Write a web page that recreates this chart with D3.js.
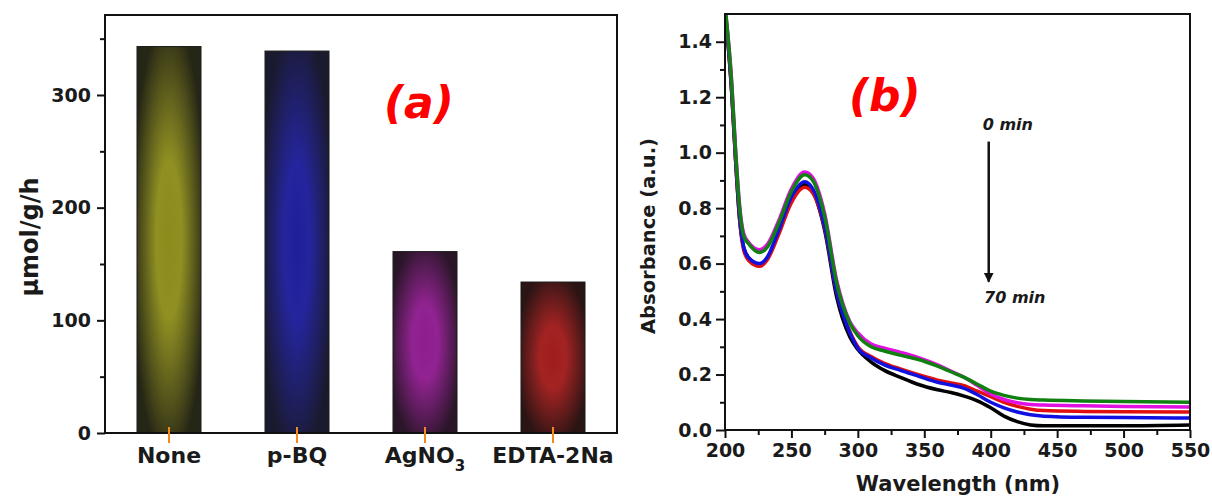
<!DOCTYPE html>
<html>
<head>
<meta charset="utf-8">
<script src="https://cdn.jsdelivr.net/npm/d3@7"></script>
<style>
  body { margin: 0; background: #fff; }
  svg { display: block; }
  text { font-family: "DejaVu Sans", sans-serif; font-weight: bold; fill: #1a1a1a; }
</style>
</head>
<body>
<script>
// ---- panel (a) data ----
var scavengers = ["None", "p-BQ", "AgNO3", "EDTA-2Na"];
var rates = [343, 339, 161, 134];
var barCenter = ["#8c8c1c", "#1e1e9a", "#8e1c8e", "#a01c1c"];
var barEdge = ["#262616", "#1a1a2e", "#2a1628", "#2a1414"];
var rateTicks = [0, 100, 200, 300];

// ---- panel (b) data ----
var wavelengths = [200, 205, 208, 211, 214, 218, 226, 232, 240, 250, 260, 266, 275, 284, 294, 300, 310, 320, 332, 345, 360, 370, 380, 390, 400, 410, 420, 430, 440, 470, 500, 550];
var absBlack   = [1.52, 1.22, 0.97, 0.76, 0.66, 0.62, 0.595, 0.62, 0.71, 0.83, 0.885, 0.86, 0.72, 0.48, 0.335, 0.29, 0.245, 0.215, 0.19, 0.165, 0.145, 0.135, 0.122, 0.105, 0.08, 0.05, 0.03, 0.018, 0.015, 0.015, 0.015, 0.018];
var absRed     = [1.52, 1.22, 0.97, 0.76, 0.65, 0.61, 0.59, 0.615, 0.70, 0.82, 0.875, 0.855, 0.73, 0.50, 0.355, 0.30, 0.265, 0.24, 0.22, 0.20, 0.18, 0.17, 0.16, 0.14, 0.12, 0.10, 0.085, 0.075, 0.07, 0.067, 0.066, 0.065];
var absBlue    = [1.52, 1.23, 0.98, 0.77, 0.66, 0.62, 0.60, 0.625, 0.715, 0.84, 0.895, 0.87, 0.735, 0.50, 0.35, 0.295, 0.26, 0.235, 0.215, 0.195, 0.172, 0.162, 0.15, 0.127, 0.10, 0.08, 0.065, 0.055, 0.05, 0.046, 0.045, 0.043];
var absMagenta = [1.53, 1.26, 1.01, 0.81, 0.71, 0.675, 0.65, 0.67, 0.75, 0.87, 0.93, 0.91, 0.78, 0.54, 0.39, 0.35, 0.31, 0.295, 0.28, 0.262, 0.235, 0.212, 0.19, 0.16, 0.13, 0.11, 0.098, 0.092, 0.09, 0.087, 0.085, 0.083];
var absGreen   = [1.53, 1.25, 1.00, 0.80, 0.70, 0.67, 0.64, 0.66, 0.74, 0.86, 0.92, 0.90, 0.77, 0.53, 0.385, 0.34, 0.30, 0.285, 0.27, 0.255, 0.23, 0.21, 0.19, 0.165, 0.14, 0.125, 0.115, 0.11, 0.108, 0.105, 0.103, 0.10];
var spectra = [
  {color: "#000000", values: absBlack},
  {color: "#e01010", values: absRed},
  {color: "#1010e0", values: absBlue},
  {color: "#e010e0", values: absMagenta},
  {color: "#108010", values: absGreen}
];
var wlTicks = [200, 250, 300, 350, 400, 450, 500, 550];
var absTicks = [0.0, 0.2, 0.4, 0.6, 0.8, 1.0, 1.2, 1.4];

var svg = d3.select("body").append("svg")
    .attr("width", 1212)
    .attr("height", 499);

var defs = svg.append("defs");

// ================= panel (a) =================
var ax = d3.scaleBand().domain(scavengers).range([105, 617]).paddingInner(0.5).paddingOuter(0.25);
var ay = d3.scaleLinear().domain([0, 371]).range([433, 15]);

scavengers.forEach(function (d, i) {
    var g = defs.append("radialGradient")
        .attr("id", "bar" + i)
        .attr("cx", "50%").attr("cy", "50%").attr("r", "58%");
    g.append("stop").attr("offset", "0%").attr("stop-color", barCenter[i]);
    g.append("stop").attr("offset", "35%").attr("stop-color", barCenter[i]).attr("stop-opacity", 0.97);
    g.append("stop").attr("offset", "100%").attr("stop-color", barEdge[i]);
});

var pa = svg.append("g");

pa.selectAll("rect.bar")
    .data(scavengers)
    .enter()
    .append("rect")
    .attr("class", "bar")
    .attr("x", function (d) { return ax(d); })
    .attr("y", function (d, i) { return ay(rates[i]); })
    .attr("width", ax.bandwidth())
    .attr("height", function (d, i) { return ay(0) - ay(rates[i]); })
    .attr("fill", function (d, i) { return "url(#bar" + i + ")"; })
    .attr("stroke", "#1a1a1a")
    .attr("stroke-width", 1);

// frame
pa.append("rect")
    .attr("x", 105).attr("y", 15)
    .attr("width", 512).attr("height", 418)
    .attr("fill", "none")
    .attr("stroke", "#111")
    .attr("stroke-width", 2);

// y axis
pa.append("g")
    .attr("transform", "translate(105,0)")
    .call(d3.axisLeft(ay).tickValues(d3.range(50, 371, 100)).tickSize(5).tickFormat(""))
    .call(function (g) { g.select(".domain").remove(); g.selectAll("line").attr("stroke-width", 2).attr("stroke", "#111"); });
pa.append("g")
    .attr("transform", "translate(105,0)")
    .call(d3.axisLeft(ay).tickValues(rateTicks).tickSize(8).tickPadding(6))
    .call(function (g) {
        g.select(".domain").remove();
        g.selectAll("line").attr("stroke-width", 2).attr("stroke", "#111");
        g.selectAll("text").attr("font-size", 19).attr("font-family", "DejaVu Sans").attr("font-weight", "bold").attr("fill", "#1a1a1a");
    });

// orange category ticks
pa.selectAll("line.cat")
    .data(scavengers)
    .enter()
    .append("line")
    .attr("class", "cat")
    .attr("x1", function (d) { return ax(d) + ax.bandwidth() / 2; })
    .attr("x2", function (d) { return ax(d) + ax.bandwidth() / 2; })
    .attr("y1", ay(0) - 6)
    .attr("y2", ay(0) + 10)
    .attr("stroke", "#f08a20")
    .attr("stroke-width", 2);

// category labels
var catLabels = pa.selectAll("text.cat")
    .data(scavengers)
    .enter()
    .append("text")
    .attr("class", "cat")
    .attr("x", function (d) { return ax(d) + ax.bandwidth() / 2; })
    .attr("y", 463)
    .attr("text-anchor", "middle")
    .attr("font-size", 22);
catLabels.each(function (d) {
    var t = d3.select(this);
    if (d === "AgNO3") {
        t.append("tspan").text("AgNO");
        t.append("tspan").text("3").attr("font-size", 15).attr("dy", 8);
    } else {
        t.text(d);
    }
});

pa.append("text")
    .attr("transform", "translate(38,237) rotate(-90)")
    .attr("text-anchor", "middle")
    .attr("font-size", 24)
    .text("μmol/g/h");

pa.append("text")
    .attr("x", 384).attr("y", 118)
    .attr("font-family", "Lato, 'Open Sans', sans-serif")
    .attr("font-style", "italic")
    .attr("font-size", 44)
    .style("fill", "#ff0000")
    .text("(a)");

// ================= panel (b) =================
var bx = d3.scaleLinear().domain([200, 550]).range([725, 1190]);
var by = d3.scaleLinear().domain([0, 1.5]).range([430, 14]);

defs.append("clipPath").attr("id", "plotclip")
    .append("rect").attr("x", 725).attr("y", 14).attr("width", 465).attr("height", 416);

var pb = svg.append("g");

var line = d3.line()
    .x(function (d, i) { return bx(wavelengths[i]); })
    .y(function (d) { return by(d); })
    .curve(d3.curveMonotoneX);

pb.append("g")
    .attr("clip-path", "url(#plotclip)")
    .selectAll("path")
    .data(spectra)
    .enter()
    .append("path")
    .attr("d", function (d) { return line(d.values); })
    .attr("fill", "none")
    .attr("stroke", function (d) { return d.color; })
    .attr("stroke-width", 3.5)
    .attr("stroke-linejoin", "round");

// frame
pb.append("rect")
    .attr("x", 725).attr("y", 14)
    .attr("width", 465).attr("height", 416)
    .attr("fill", "none")
    .attr("stroke", "#111")
    .attr("stroke-width", 2);

function styleAxis(g) {
    g.select(".domain").remove();
    g.selectAll("line").attr("stroke-width", 2).attr("stroke", "#111");
    g.selectAll("text").attr("font-size", 19).attr("font-family", "DejaVu Sans").attr("font-weight", "bold").attr("fill", "#1a1a1a");
}

pb.append("g")
    .attr("transform", "translate(0,430)")
    .call(d3.axisBottom(bx).tickValues(d3.range(225, 550, 50)).tickSize(5).tickFormat(""))
    .call(styleAxis);
pb.append("g")
    .attr("transform", "translate(0,430)")
    .call(d3.axisBottom(bx).tickValues(wlTicks).tickSize(8).tickPadding(6).tickFormat(d3.format("d")))
    .call(styleAxis);

pb.append("g")
    .attr("transform", "translate(725,0)")
    .call(d3.axisLeft(by).tickValues(d3.range(0.1, 1.5, 0.2)).tickSize(5).tickFormat(""))
    .call(styleAxis);
pb.append("g")
    .attr("transform", "translate(725,0)")
    .call(d3.axisLeft(by).tickValues(absTicks).tickSize(9).tickPadding(4).tickFormat(d3.format(".1f")))
    .call(styleAxis);

pb.append("text")
    .attr("x", 958).attr("y", 491)
    .attr("text-anchor", "middle")
    .attr("font-size", 21)
    .text("Wavelength (nm)");

pb.append("text")
    .attr("transform", "translate(655,236) rotate(-90)")
    .attr("text-anchor", "middle")
    .attr("font-size", 19.5)
    .text("Absorbance (a.u.)");

pb.append("text")
    .attr("x", 849).attr("y", 111)
    .attr("font-family", "Lato, 'Open Sans', sans-serif")
    .attr("font-style", "italic")
    .attr("font-size", 44)
    .style("fill", "#ff0000")
    .text("(b)");

// time arrow
defs.append("marker")
    .attr("id", "arrow")
    .attr("viewBox", "0 0 10 10")
    .attr("refX", 9).attr("refY", 5)
    .attr("markerWidth", 4).attr("markerHeight", 5)
    .attr("markerUnits", "strokeWidth")
    .attr("orient", "auto")
    .append("path").attr("d", "M0,0 L10,5 L0,10 Z").attr("fill", "#111");

pb.append("line")
    .attr("x1", bx(398.5)).attr("y1", by(1.04))
    .attr("x2", bx(398.5)).attr("y2", by(0.535))
    .attr("stroke", "#111")
    .attr("stroke-width", 2.5)
    .attr("marker-end", "url(#arrow)");

pb.append("text")
    .attr("x", bx(394)).attr("y", by(1.08))
    .attr("font-size", 16)
    .attr("font-style", "italic")
    .text("0 min");

pb.append("text")
    .attr("x", bx(395)).attr("y", by(0.458))
    .attr("font-size", 16)
    .attr("font-style", "italic")
    .text("70 min");
</script>
</body>
</html>
